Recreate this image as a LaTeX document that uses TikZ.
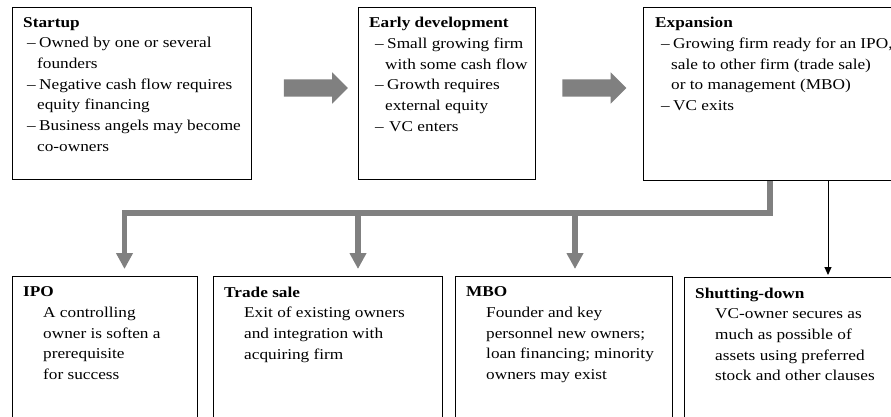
\documentclass[tikz,border=0pt]{standalone}
\usepackage{fontspec}
\setmainfont[FakeStretch=1.15]{Liberation Serif}
\usepackage{tikz}
\usetikzlibrary{arrows.meta,shapes.arrows}
\definecolor{flowgray}{RGB}{128,128,128}

\begin{document}
\begin{tikzpicture}[x=1pt, y=-1pt,
	box/.style={draw, line width=0.9pt, anchor=north west, inner sep=0pt},
	txt/.style={anchor=north west, inner sep=0pt, align=left, font=\fontsize{15}{20.7}\selectfont},
	bigarrow/.style={single arrow, fill=flowgray, draw=none, inner xsep=0pt, inner ysep=8.5pt,
		minimum height=64pt, single arrow head extend=7pt},
	flow/.style={draw=flowgray, line width=5.5pt, line join=miter, -{Triangle[width=16pt,length=16pt]}},
	exit/.style={draw=black, line width=1pt, -{Triangle[width=7pt,length=8pt]}}
	]
	\useasboundingbox (0,0) rectangle (891,416);
	\clip (0,0) rectangle (891,416);
	
	% stages
	\node [box, minimum width=239pt, minimum height=172pt] (startup) at (12,7) {};
	\node [box, minimum width=177pt, minimum height=172pt] (early) at (358,7) {};
	\node [box, minimum width=260pt, minimum height=173pt] (expansion) at (643,7) {};
	
	\node [txt] (startuptext) at ([shift={(11,10)}]startup.north west) {\textbf{Startup}\\
		\hspace*{4pt}\makebox[12pt][l]{--}Owned by one or several\\
		\hspace*{14pt}founders\\
		\hspace*{4pt}\makebox[12pt][l]{--}Negative cash flow requires\\
		\hspace*{14pt}equity financing\\
		\hspace*{4pt}\makebox[12pt][l]{--}Business angels may become\\
		\hspace*{14pt}co-owners};
	\node [txt] (earlytext) at ([shift={(11,10)}]early.north west) {\textbf{Early development}\\
		\hspace*{6pt}\makebox[12pt][l]{--}Small growing firm\\
		\hspace*{16pt}with some cash flow\\
		\hspace*{6pt}\makebox[12pt][l]{--}Growth requires\\
		\hspace*{16pt}external equity\\
		\hspace*{6pt}\makebox[14pt][l]{--}VC enters};
	\node [txt] (expansiontext) at ([shift={(12,10)}]expansion.north west) {\textbf{Expansion}\\
		\hspace*{6pt}\makebox[12pt][l]{--}Growing firm ready for an IPO,\\
		\hspace*{16pt}sale to other firm (trade sale)\\
		\hspace*{16pt}or to management (MBO)\\
		\hspace*{6pt}\makebox[12pt][l]{--}VC exits};
	
	\node [bigarrow] (go1) at (311.5,88) {};
	\node [bigarrow] (go2) at (590,88) {};
	
	% exits
	\node [box, minimum width=185pt, minimum height=200pt] (ipo) at (12,276) {};
	\node [box, minimum width=229pt, minimum height=200pt] (trade) at (213,276) {};
	\node [box, minimum width=217pt, minimum height=200pt] (mbo) at (455,276) {};
	\node [box, minimum width=230pt, minimum height=200pt] (shut) at (684,277) {};
	
	\node [txt] (ipotext) at ([shift={(11,10.5)}]ipo.north west) {\textbf{IPO}\\
		\hspace*{20pt}A controlling\\
		\hspace*{20pt}owner is soften a\\
		\hspace*{20pt}prerequisite\\
		\hspace*{20pt}for success};
	\node [txt] (tradetext) at ([shift={(11,10.5)}]trade.north west) {\textbf{Trade sale}\\
		\hspace*{20pt}Exit of existing owners\\
		\hspace*{20pt}and integration with\\
		\hspace*{20pt}acquiring firm};
	\node [txt] (mbotext) at ([shift={(11,10.5)}]mbo.north west) {\textbf{MBO}\\
		\hspace*{20pt}Founder and key\\
		\hspace*{20pt}personnel new owners;\\
		\hspace*{20pt}loan financing; minority\\
		\hspace*{20pt}owners may exist};
	\node [txt] (shuttext) at ([shift={(11,10.5)}]shut.north west) {\textbf{Shutting-down}\\
		\hspace*{20pt}VC-owner secures as\\
		\hspace*{20pt}much as possible of\\
		\hspace*{20pt}assets using preferred\\
		\hspace*{20pt}stock and other clauses};
	
	\coordinate (hub) at (770,213);
	\coordinate (ipoin) at (124.5,269);
	\coordinate (tradein) at (358,269);
	\coordinate (mboin) at (575,269);
	\coordinate (shutin) at (828,275);
	
	\draw [flow] (expansion.south -| hub) -- (hub) -| (ipoin);
	\draw [flow] (tradein |- hub) -- (tradein);
	\draw [flow] (mboin |- hub) -- (mboin);
	\draw [exit] (expansion.south -| shutin) -- (shutin);
\end{tikzpicture}
\end{document}
